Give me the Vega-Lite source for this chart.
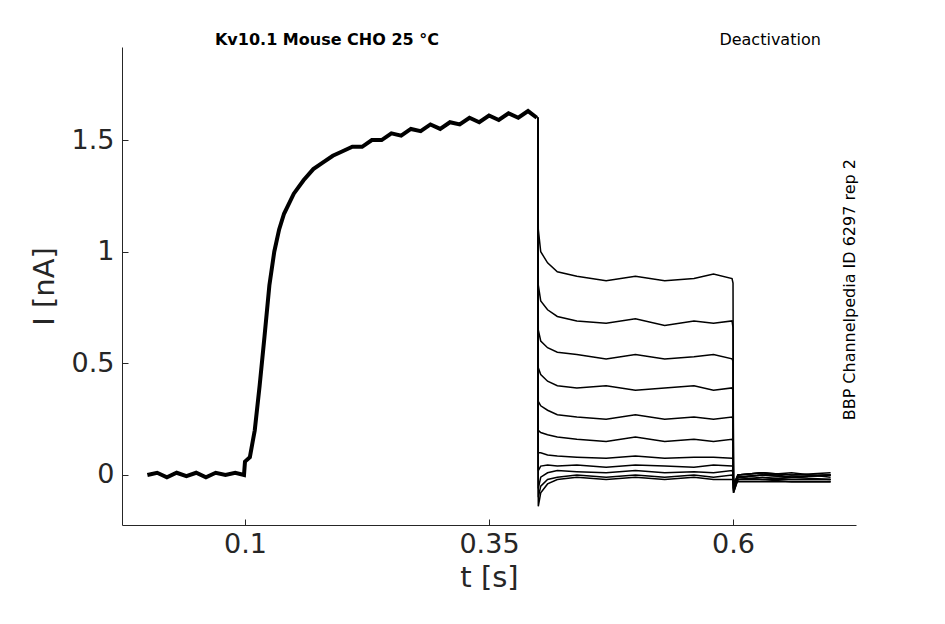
{
"$schema":"https://vega.github.io/schema/vega-lite/v6.json",
"width":734,"height":478,
"autosize":{"type":"none"},
"padding":{"left":122,"top":47,"right":89,"bottom":99},
"background":"white",
"config":{"view":{"stroke":null},"font":"DejaVu Sans"},
"datasets":{
"labels":[
{"t":0.184,"v":1.948,"label":"Kv10.1  Mouse  CHO  25 °C","kind":"title"},
{"t":0.638,"v":1.948,"label":"Deactivation","kind":"right"},
{"t":0.72,"v":0.83,"label":"BBP Channelpedia ID 6297 rep 2","kind":"side"}
],
"act":[
{"t":0,"v":0},{"t":0.01,"v":0.01},{"t":0.02,"v":-0.01},{"t":0.03,"v":0.01},{"t":0.04,"v":-0.005},{"t":0.05,"v":0.01},{"t":0.06,"v":-0.01},{"t":0.07,"v":0.01},{"t":0.08,"v":0},{"t":0.09,"v":0.01},{"t":0.099,"v":0},{"t":0.1,"v":0.06},{"t":0.105,"v":0.08},{"t":0.11,"v":0.2},{"t":0.115,"v":0.4},{"t":0.12,"v":0.62},{"t":0.125,"v":0.85},{"t":0.13,"v":1.0},{"t":0.135,"v":1.1},{"t":0.14,"v":1.17},{"t":0.15,"v":1.26},{"t":0.16,"v":1.32},{"t":0.17,"v":1.37},{"t":0.18,"v":1.4},{"t":0.19,"v":1.43},{"t":0.2,"v":1.45},{"t":0.21,"v":1.47},{"t":0.22,"v":1.47},{"t":0.23,"v":1.5},{"t":0.24,"v":1.5},{"t":0.25,"v":1.53},{"t":0.26,"v":1.52},{"t":0.27,"v":1.55},{"t":0.28,"v":1.54},{"t":0.29,"v":1.57},{"t":0.3,"v":1.55},{"t":0.31,"v":1.58},{"t":0.32,"v":1.57},{"t":0.33,"v":1.6},{"t":0.34,"v":1.58},{"t":0.35,"v":1.61},{"t":0.36,"v":1.59},{"t":0.37,"v":1.62},{"t":0.38,"v":1.6},{"t":0.39,"v":1.63},{"t":0.399,"v":1.6}
],
"tail":[
{"s":"A","t":0.4,"v":1.6},{"s":"A","t":0.4005,"v":1.1},{"s":"A","t":0.403,"v":1.0},{"s":"A","t":0.41,"v":0.95},{"s":"A","t":0.42,"v":0.91},{"s":"A","t":0.44,"v":0.89},{"s":"A","t":0.47,"v":0.87},{"s":"A","t":0.5,"v":0.89},{"s":"A","t":0.53,"v":0.87},{"s":"A","t":0.56,"v":0.88},{"s":"A","t":0.58,"v":0.9},{"s":"A","t":0.599,"v":0.88},{"s":"A","t":0.6,"v":0.86},{"s":"A","t":0.6005,"v":-0.06},{"s":"A","t":0.605,"v":0},{"s":"A","t":0.63,"v":0.01},{"s":"A","t":0.66,"v":-0.01},{"s":"A","t":0.7,"v":0},
{"s":"B","t":0.4,"v":1.6},{"s":"B","t":0.4005,"v":0.85},{"s":"B","t":0.403,"v":0.78},{"s":"B","t":0.41,"v":0.74},{"s":"B","t":0.42,"v":0.71},{"s":"B","t":0.44,"v":0.69},{"s":"B","t":0.47,"v":0.68},{"s":"B","t":0.5,"v":0.7},{"s":"B","t":0.53,"v":0.67},{"s":"B","t":0.56,"v":0.69},{"s":"B","t":0.58,"v":0.68},{"s":"B","t":0.599,"v":0.69},{"s":"B","t":0.6,"v":0.66},{"s":"B","t":0.6005,"v":-0.07},{"s":"B","t":0.605,"v":-0.01},{"s":"B","t":0.63,"v":0},{"s":"B","t":0.66,"v":0.01},{"s":"B","t":0.7,"v":-0.01},
{"s":"C","t":0.4,"v":1.6},{"s":"C","t":0.4005,"v":0.65},{"s":"C","t":0.403,"v":0.6},{"s":"C","t":0.41,"v":0.57},{"s":"C","t":0.42,"v":0.55},{"s":"C","t":0.44,"v":0.54},{"s":"C","t":0.47,"v":0.52},{"s":"C","t":0.5,"v":0.54},{"s":"C","t":0.53,"v":0.52},{"s":"C","t":0.56,"v":0.53},{"s":"C","t":0.58,"v":0.54},{"s":"C","t":0.599,"v":0.52},{"s":"C","t":0.6,"v":0.51},{"s":"C","t":0.6005,"v":-0.08},{"s":"C","t":0.605,"v":-0.02},{"s":"C","t":0.63,"v":-0.01},{"s":"C","t":0.66,"v":-0.02},{"s":"C","t":0.7,"v":-0.02},
{"s":"D","t":0.4,"v":1.6},{"s":"D","t":0.4005,"v":0.48},{"s":"D","t":0.403,"v":0.45},{"s":"D","t":0.41,"v":0.42},{"s":"D","t":0.42,"v":0.4},{"s":"D","t":0.44,"v":0.39},{"s":"D","t":0.47,"v":0.4},{"s":"D","t":0.5,"v":0.38},{"s":"D","t":0.53,"v":0.39},{"s":"D","t":0.56,"v":0.4},{"s":"D","t":0.58,"v":0.38},{"s":"D","t":0.599,"v":0.39},{"s":"D","t":0.6,"v":0.38},{"s":"D","t":0.6005,"v":-0.08},{"s":"D","t":0.605,"v":-0.02},{"s":"D","t":0.63,"v":-0.02},{"s":"D","t":0.66,"v":-0.03},{"s":"D","t":0.7,"v":-0.03},
{"s":"E","t":0.4,"v":1.6},{"s":"E","t":0.4005,"v":0.33},{"s":"E","t":0.403,"v":0.31},{"s":"E","t":0.41,"v":0.29},{"s":"E","t":0.42,"v":0.27},{"s":"E","t":0.44,"v":0.26},{"s":"E","t":0.47,"v":0.25},{"s":"E","t":0.5,"v":0.27},{"s":"E","t":0.53,"v":0.25},{"s":"E","t":0.56,"v":0.26},{"s":"E","t":0.58,"v":0.25},{"s":"E","t":0.599,"v":0.26},{"s":"E","t":0.6,"v":0.25},{"s":"E","t":0.6005,"v":-0.07},{"s":"E","t":0.605,"v":-0.01},{"s":"E","t":0.63,"v":0},{"s":"E","t":0.66,"v":-0.01},{"s":"E","t":0.7,"v":0},
{"s":"F","t":0.4,"v":1.6},{"s":"F","t":0.4005,"v":0.2},{"s":"F","t":0.403,"v":0.19},{"s":"F","t":0.41,"v":0.18},{"s":"F","t":0.42,"v":0.17},{"s":"F","t":0.44,"v":0.16},{"s":"F","t":0.47,"v":0.15},{"s":"F","t":0.5,"v":0.17},{"s":"F","t":0.53,"v":0.15},{"s":"F","t":0.56,"v":0.16},{"s":"F","t":0.58,"v":0.15},{"s":"F","t":0.599,"v":0.16},{"s":"F","t":0.6,"v":0.15},{"s":"F","t":0.6005,"v":-0.06},{"s":"F","t":0.605,"v":0},{"s":"F","t":0.63,"v":0.01},{"s":"F","t":0.66,"v":0},{"s":"F","t":0.7,"v":0.01},
{"s":"G","t":0.4,"v":1.6},{"s":"G","t":0.4005,"v":0.1},{"s":"G","t":0.403,"v":0.1},{"s":"G","t":0.41,"v":0.09},{"s":"G","t":0.42,"v":0.085},{"s":"G","t":0.44,"v":0.08},{"s":"G","t":0.47,"v":0.075},{"s":"G","t":0.5,"v":0.085},{"s":"G","t":0.53,"v":0.075},{"s":"G","t":0.56,"v":0.08},{"s":"G","t":0.58,"v":0.08},{"s":"G","t":0.599,"v":0.075},{"s":"G","t":0.6,"v":0.07},{"s":"G","t":0.6005,"v":-0.06},{"s":"G","t":0.605,"v":-0.02},{"s":"G","t":0.63,"v":-0.02},{"s":"G","t":0.66,"v":-0.02},{"s":"G","t":0.7,"v":-0.02},
{"s":"H","t":0.4,"v":1.6},{"s":"H","t":0.4005,"v":0.02},{"s":"H","t":0.403,"v":0.04},{"s":"H","t":0.41,"v":0.045},{"s":"H","t":0.42,"v":0.04},{"s":"H","t":0.44,"v":0.045},{"s":"H","t":0.47,"v":0.035},{"s":"H","t":0.5,"v":0.045},{"s":"H","t":0.53,"v":0.04},{"s":"H","t":0.56,"v":0.035},{"s":"H","t":0.58,"v":0.045},{"s":"H","t":0.599,"v":0.04},{"s":"H","t":0.6,"v":0.04},{"s":"H","t":0.6005,"v":-0.05},{"s":"H","t":0.605,"v":-0.01},{"s":"H","t":0.63,"v":0},{"s":"H","t":0.66,"v":-0.01},{"s":"H","t":0.7,"v":0},
{"s":"I","t":0.4,"v":1.6},{"s":"I","t":0.4005,"v":-0.06},{"s":"I","t":0.403,"v":-0.01},{"s":"I","t":0.41,"v":0.01},{"s":"I","t":0.42,"v":0.02},{"s":"I","t":0.44,"v":0.015},{"s":"I","t":0.47,"v":0.01},{"s":"I","t":0.5,"v":0.02},{"s":"I","t":0.53,"v":0.01},{"s":"I","t":0.56,"v":0.015},{"s":"I","t":0.58,"v":0.01},{"s":"I","t":0.599,"v":0.02},{"s":"I","t":0.6,"v":0.01},{"s":"I","t":0.6005,"v":-0.04},{"s":"I","t":0.605,"v":0},{"s":"I","t":0.63,"v":0.01},{"s":"I","t":0.66,"v":0},{"s":"I","t":0.7,"v":0},
{"s":"J","t":0.4,"v":1.6},{"s":"J","t":0.4005,"v":-0.1},{"s":"J","t":0.403,"v":-0.05},{"s":"J","t":0.41,"v":-0.02},{"s":"J","t":0.42,"v":-0.01},{"s":"J","t":0.44,"v":0},{"s":"J","t":0.47,"v":-0.01},{"s":"J","t":0.5,"v":0},{"s":"J","t":0.53,"v":-0.01},{"s":"J","t":0.56,"v":0},{"s":"J","t":0.58,"v":-0.01},{"s":"J","t":0.599,"v":0},{"s":"J","t":0.6,"v":-0.01},{"s":"J","t":0.6005,"v":-0.03},{"s":"J","t":0.605,"v":-0.01},{"s":"J","t":0.63,"v":-0.02},{"s":"J","t":0.66,"v":-0.01},{"s":"J","t":0.7,"v":-0.02},
{"s":"K","t":0.4,"v":1.6},{"s":"K","t":0.4005,"v":-0.14},{"s":"K","t":0.403,"v":-0.08},{"s":"K","t":0.41,"v":-0.04},{"s":"K","t":0.42,"v":-0.02},{"s":"K","t":0.44,"v":-0.01},{"s":"K","t":0.47,"v":-0.02},{"s":"K","t":0.5,"v":-0.01},{"s":"K","t":0.53,"v":-0.02},{"s":"K","t":0.56,"v":-0.01},{"s":"K","t":0.58,"v":-0.02},{"s":"K","t":0.599,"v":-0.02},{"s":"K","t":0.6,"v":-0.02},{"s":"K","t":0.6005,"v":-0.04},{"s":"K","t":0.605,"v":-0.03},{"s":"K","t":0.63,"v":-0.03},{"s":"K","t":0.66,"v":-0.03},{"s":"K","t":0.7,"v":-0.03}
]},
"encoding":{
"x":{"field":"t","type":"quantitative","scale":{"domain":[-0.026,0.726],"nice":false,"zero":false},
"axis":{"values":[0.1,0.35,0.6],"labelExpr":"datum.value==0.1?'0.1':datum.value==0.35?'0.35':'0.6'","title":"t [s]","grid":false,"labelFontSize":27,"titleFontSize":29,"titleFontWeight":"normal","labelColor":"#262626","titleColor":"#262626","domainColor":"#262626","tickColor":"#262626","tickSize":-6,"labelPadding":12,"titlePadding":6}},
"y":{"field":"v","type":"quantitative","scale":{"domain":[-0.224,1.917],"nice":false,"zero":false},
"axis":{"values":[0,0.5,1,1.5],"labelExpr":"datum.value==0?'0':datum.value==0.5?'0.5':datum.value==1?'1':'1.5'","title":"I [nA]","grid":false,"labelFontSize":27,"titleFontSize":29,"titleFontWeight":"normal","labelColor":"#262626","titleColor":"#262626","domainColor":"#262626","tickColor":"#262626","tickSize":-6,"labelPadding":14,"titlePadding":12}}
},
"layer":[
{"data":{"name":"act"},"mark":{"type":"line","color":"black","strokeWidth":4}},
{"data":{"name":"tail"},"mark":{"type":"line","color":"black","strokeWidth":1.5},"encoding":{"detail":{"field":"s"}}},
{"data":{"name":"labels"},"transform":[{"filter":"datum.kind=='title'"}],"mark":{"type":"text","fontSize":16,"fontWeight":"bold","color":"black"},"encoding":{"text":{"field":"label"}}},
{"data":{"name":"labels"},"transform":[{"filter":"datum.kind=='right'"}],"mark":{"type":"text","fontSize":16,"color":"black"},"encoding":{"text":{"field":"label"}}},
{"data":{"name":"labels"},"transform":[{"filter":"datum.kind=='side'"}],"mark":{"type":"text","fontSize":16,"angle":270,"color":"black"},"encoding":{"text":{"field":"label"}}}
]
}
